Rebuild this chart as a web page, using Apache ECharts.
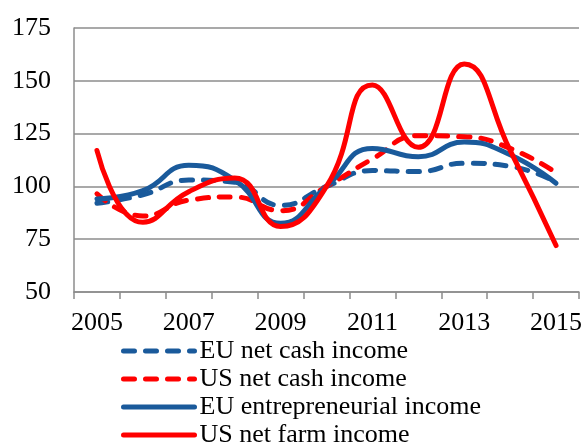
<!DOCTYPE html>
<html>
<head>
<meta charset="utf-8">
<title>EU / US farm income</title>
<script src="https://cdn.jsdelivr.net/npm/echarts@6/dist/echarts.min.js"></script>
<style>
  html, body { margin: 0; padding: 0; background: #fff; }
  #main { width: 585px; height: 444px; }
</style>
</head>
<body>
<div id="main"></div>
<script type="text/javascript">
// years on the x axis (index, 2010 = 100)
var years = ['2005', '2006', '2007', '2008', '2009', '2010', '2011', '2012', '2013', '2014', '2015'];
var euNetCash = [92, 96, 103, 102, 91, 100, 107.5, 107, 111, 109.5, 102];
var usNetCash = [96.5, 86, 93.5, 95, 88.5, 100, 113, 124, 123.5, 118, 106.5];
var euEntrepreneurial = [94, 98, 110, 103, 82.5, 100, 118, 114, 121, 115, 101.5];
var usNetFarm = [117, 83, 97.5, 104, 81, 100, 148, 118.5, 158, 117, 72];
var yTicks = [50, 75, 100, 125, 150, 175];

var blue = '#1a5a9b';
var red = '#ff0000';
var font = "'Liberation Serif', 'Times New Roman', serif";
var grey = '#8c8c8c';

var myChart = echarts.init(document.getElementById('main'));

function lineSeries(name, data, color, dashed) {
  return {
    name: name,
    type: 'line',
    data: data,
    smooth: 0.5,
    symbol: 'none',
    animation: false,
    lineStyle: {
      color: color,
      width: 5,
      type: dashed ? [11, 11] : 'solid',
      cap: 'round'
    },
    itemStyle: { color: color }
  };
}

var option = {
  animation: false,
  grid: { left: 74, right: 5, top: 28, bottom: 152 },
  legend: {
    orient: 'vertical',
    left: 121,
    top: 337,
    height: 200,
    padding: 0,
    itemWidth: 71,
    itemHeight: 14,
    itemGap: 0,
    itemStyle: { opacity: 0 },
    lineStyle: { width: 5 },
    textStyle: { fontFamily: font, fontSize: 26, lineHeight: 28, color: '#000' },
    data: ['EU net cash income', 'US net cash income', 'EU entrepreneurial income', 'US net farm income']
  },
  xAxis: {
    type: 'category',
    data: years,
    boundaryGap: true,
    axisLine: { lineStyle: { color: grey, width: 1.5 } },
    axisTick: { show: true, interval: 0, length: 7, lineStyle: { color: grey, width: 1.5 } },
    axisLabel: { interval: 1, margin: 18, fontFamily: font, fontSize: 26, color: '#000' },
    splitLine: { show: false }
  },
  yAxis: {
    type: 'value',
    min: yTicks[0],
    max: yTicks[yTicks.length - 1],
    interval: 25,
    axisLine: { show: true, lineStyle: { color: grey, width: 1.5 } },
    axisTick: { show: false },
    axisLabel: { margin: 23, fontFamily: font, fontSize: 26, color: '#000' },
    splitLine: { show: true, lineStyle: { color: grey, width: 1.5 } }
  },
  series: [
    lineSeries('EU net cash income', euNetCash, blue, true),
    lineSeries('US net cash income', usNetCash, red, true),
    lineSeries('EU entrepreneurial income', euEntrepreneurial, blue, false),
    lineSeries('US net farm income', usNetFarm, red, false)
  ]
};

myChart.setOption(option);
</script>
</body>
</html>
